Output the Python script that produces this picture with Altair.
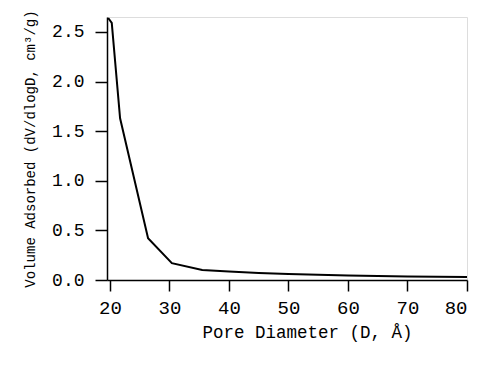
import altair as alt
import pandas as pd

diameter = [19.7, 20.3, 21.7, 26.4, 30.4, 35.5, 40, 45, 50, 60, 70, 80]
volume = [2.64, 2.59, 1.63, 0.42, 0.17, 0.10, 0.085, 0.07, 0.06, 0.045, 0.035, 0.03]
x_ticks = [20, 30, 40, 50, 60, 70, 80]
y_ticks = [0.0, 0.5, 1.0, 1.5, 2.0, 2.5]

df = pd.DataFrame({"D": diameter, "V": volume})
FONT = "Liberation Mono"

chart = alt.Chart(df).mark_line(color="black", strokeWidth=2).encode(
    x=alt.X("D:Q",
            scale=alt.Scale(domain=[19.5, 80], nice=False, zero=False),
            axis=alt.Axis(values=x_ticks, title="Pore Diameter (D, Å)", format="d",
                          grid=False, domainColor="black", domainWidth=1.5,
                          tickColor="black", tickWidth=1.5, tickSize=11,
                          labelFont=FONT, labelFontSize=19, labelColor="black",
                          labelPadding=7, titleFont=FONT, titleFontSize=17.5,
                          titleFontWeight="normal", titleColor="black", titlePadding=6,
                          titleX=200, titleAlign="center", titleAnchor="start")),
    y=alt.Y("V:Q",
            scale=alt.Scale(domain=[0, 2.65], nice=False),
            axis=alt.Axis(values=y_ticks, title="Volume Adsorbed (dV/dlogD, cm³/g)", format=".1f",
                          grid=False, domainColor="black", domainWidth=1.5,
                          tickColor="black", tickWidth=1.5, tickSize=12,
                          labelFont=FONT, labelFontSize=18, labelColor="black",
                          labelPadding=11, titleFont=FONT, titleFontSize=14,
                          titleFontWeight="normal", titleColor="black", titlePadding=14)),
).properties(
    width=360, height=263,
    autosize=alt.AutoSizeParams(type="none"),
    padding={"left": 99, "top": 9, "right": 8, "bottom": 80},
).configure_view(stroke=None).configure(background="white")

chart.save("out.html", embed_options={"renderer": "svg", "actions": False})
